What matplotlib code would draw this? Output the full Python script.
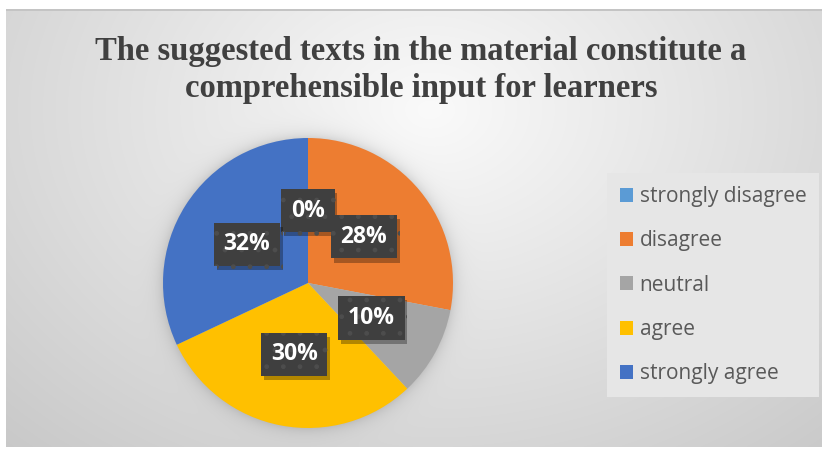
import numpy as np
import matplotlib
matplotlib.use("Agg")
import matplotlib.pyplot as plt
from matplotlib import patheffects as pe
from matplotlib.patches import Patch

# Survey responses (percent of respondents)
categories = ["strongly disagree", "disagree", "neutral", "agree", "strongly agree"]
shares = [0, 28, 10, 30, 32]
colors = ["#5B9BD5", "#ED7D31", "#A5A5A5", "#FFC000", "#4472C4"]
title = "The suggested texts in the material constitute a\ncomprehensible input for learners"

W, H = 825, 451
fig = plt.figure(figsize=(W / 100, H / 100), dpi=100)
fig.patch.set_facecolor("white")

# ---- background panel: radial grey gradient with soft shadow round the pie
bg = fig.add_axes([0, 0, 1, 1])
bg.set_xlim(0, W)
bg.set_ylim(H, 0)
bg.axis("off")
yy, xx = np.mgrid[0:H, 0:W] + 0.5
r = np.sqrt(((xx - 430) / 480) ** 2 + ((yy - 110) / 360) ** 2)
val = 250 - 50 * np.clip(r / 1.3, 0, 1)
cx, cy, R = 308, 283, 145
d = np.sqrt((xx - cx) ** 2 + (yy - cy) ** 2)
val = val * (1 - 0.12 * np.exp(-np.clip(d - R, 0, None) / 7))
img = np.full((H, W), 255.0)
panel = (xx > 6) & (xx < 822) & (yy > 11) & (yy < 447)
img[panel] = val[panel]
img[(yy > 9) & (yy < 11.5) & (xx > 6) & (xx < 822)] = 196
rgb = np.repeat((img / 255.0)[..., None], 3, axis=2)
bg.imshow(rgb, extent=(0, W, H, 0), interpolation="bilinear", zorder=0)

# ---- title
fig.text(421 / W, 1 - 70 / H, title, ha="center", va="center",
         fontsize=23.5, fontweight="bold", family="Liberation Serif",
         color="#404040", linespacing=1.22)

# ---- pie
ax = fig.add_axes([(cx - R) / W, (H - cy - R) / H, 2 * R / W, 2 * R / H])
ax.axis("off")
wedges, texts, autotexts = ax.pie(
    shares, colors=colors, startangle=90, counterclock=False,
    autopct="%1.0f%%", pctdistance=0.5, radius=1.0,
    wedgeprops=dict(linewidth=0),
    textprops=dict(color="white", fontsize=16.5, fontweight="bold", family="Open Sans"),
)
ax.set_xlim(-1, 1)
ax.set_ylim(-1, 1)
for t in autotexts:
    t.set_bbox(dict(boxstyle="square,pad=0.42", facecolor="#3f3f3f",
                    edgecolor="#4d4d4d", hatch=".", linewidth=0))
    t.get_bbox_patch().set_path_effects(
        [pe.SimplePatchShadow(offset=(2, -3), shadow_rgbFace="black", alpha=0.3), pe.Normal()])

# ---- legend
handles = [Patch(facecolor=c, edgecolor="none") for c in colors]
leg = fig.legend(handles, categories, loc="upper left",
                 bbox_to_anchor=(607 / W, 1 - 173 / H),
                 frameon=True, fancybox=False, facecolor="#e6e6e6", edgecolor="none",
                 framealpha=1.0, labelcolor="#595959",
                 prop=dict(family="Open Sans", size=15),
                 handlelength=0.65, handleheight=0.65, handletextpad=0.3,
                 labelspacing=1.12, borderpad=0.62, borderaxespad=0)

fig.savefig("out.png", dpi=100)
